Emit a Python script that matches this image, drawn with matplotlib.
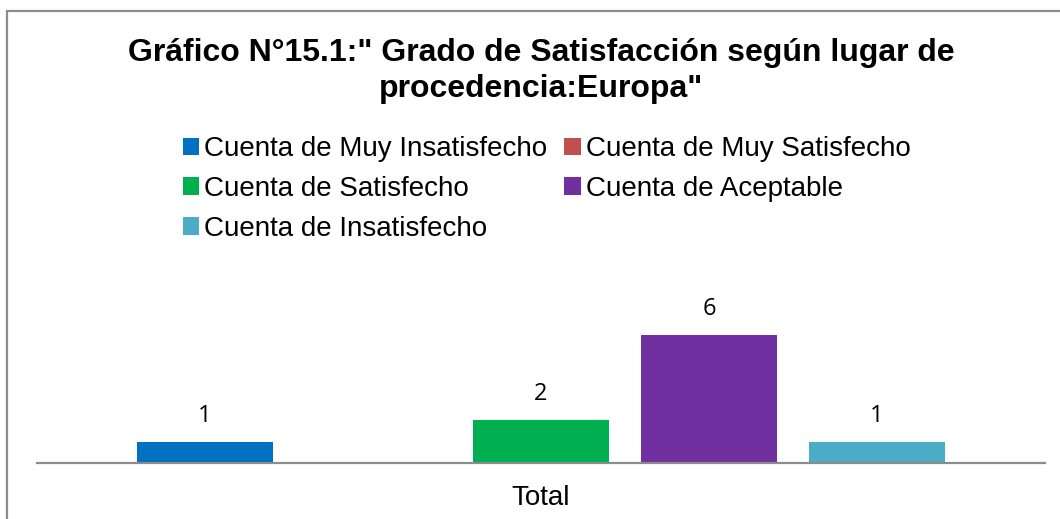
import matplotlib
matplotlib.use("Agg")
import matplotlib.pyplot as plt
from matplotlib.patches import Rectangle

# Data
series = ["Cuenta de Muy Insatisfecho", "Cuenta de Muy Satisfecho", "Cuenta de Satisfecho",
          "Cuenta de Aceptable", "Cuenta de Insatisfecho"]
values = [1, 0, 2, 6, 1]
colors = ["#0070C0", "#C0504D", "#00B050", "#7030A0", "#4BACC6"]
category = "Total"
title = "Gráfico N°15.1:\" Grado de Satisfacción según lugar de\nprocedencia:Europa\""

W, H = 1060, 519
fig = plt.figure(figsize=(W / 100, H / 100), dpi=100)

# axes geometry in pixels
ax_left, ax_right, ax_bottom, ax_top = 37, 1045, 463, 300
ax = fig.add_axes([ax_left / W, (H - ax_bottom) / H, (ax_right - ax_left) / W, (ax_bottom - ax_top) / H])
px_per_unit = 128 / 6
ax.set_ylim(0, (ax_bottom - ax_top) / px_per_unit)
ax.set_xlim(-3.0, 3.0)

n = len(series)
bars = []
for i, (name, v, c) in enumerate(zip(series, values, colors)):
    x = i - (n - 1) / 2
    b = ax.bar(x, v, width=0.804, color=c, label=name, zorder=2)
    bars.append(b)
    if v > 0:
        ax.annotate(str(v), (x, v), xytext=(0, 26), textcoords="offset pixels",
                    ha="center", va="center", fontsize=17, family="Open Sans", color="#000000")

for s in ["top", "right", "left"]:
    ax.spines[s].set_visible(False)
ax.spines["bottom"].set_color("#8C8C8C")
ax.spines["bottom"].set_linewidth(1.6)
ax.set_yticks([])
ax.set_xticks([0])
ax.set_xticklabels([category], fontsize=20, family="Liberation Sans")
ax.tick_params(axis="x", length=0, pad=16)

# legend (column-major order to produce row-major reading)
order = [0, 2, 4, 1, 3]
leg = fig.legend([bars[i] for i in order], [series[i] for i in order], ncol=2,
                 loc="upper left", bbox_to_anchor=(183 / W, 1 - 136 / H),
                 frameon=False, prop={"family": "Liberation Sans", "size": 20},
                 handlelength=0.58, handleheight=0.58, handletextpad=0.18,
                 columnspacing=0.62, labelspacing=0.5, borderpad=0, borderaxespad=0)

fig.text(541 / W, 1 - 71 / H, title, ha="center", va="center", multialignment="center",
         fontsize=23, fontweight="bold", family="Liberation Sans", linespacing=1.25)

# outer chart frame (extends past right and bottom edges)
fig.patches.append(Rectangle((7 / W, -0.1), 1.2, (H - 11) / H + 0.1, transform=fig.transFigure,
                             fill=False, edgecolor="#8C8C8C", linewidth=1.6, clip_on=False))

fig.savefig("out.png", dpi=100)
